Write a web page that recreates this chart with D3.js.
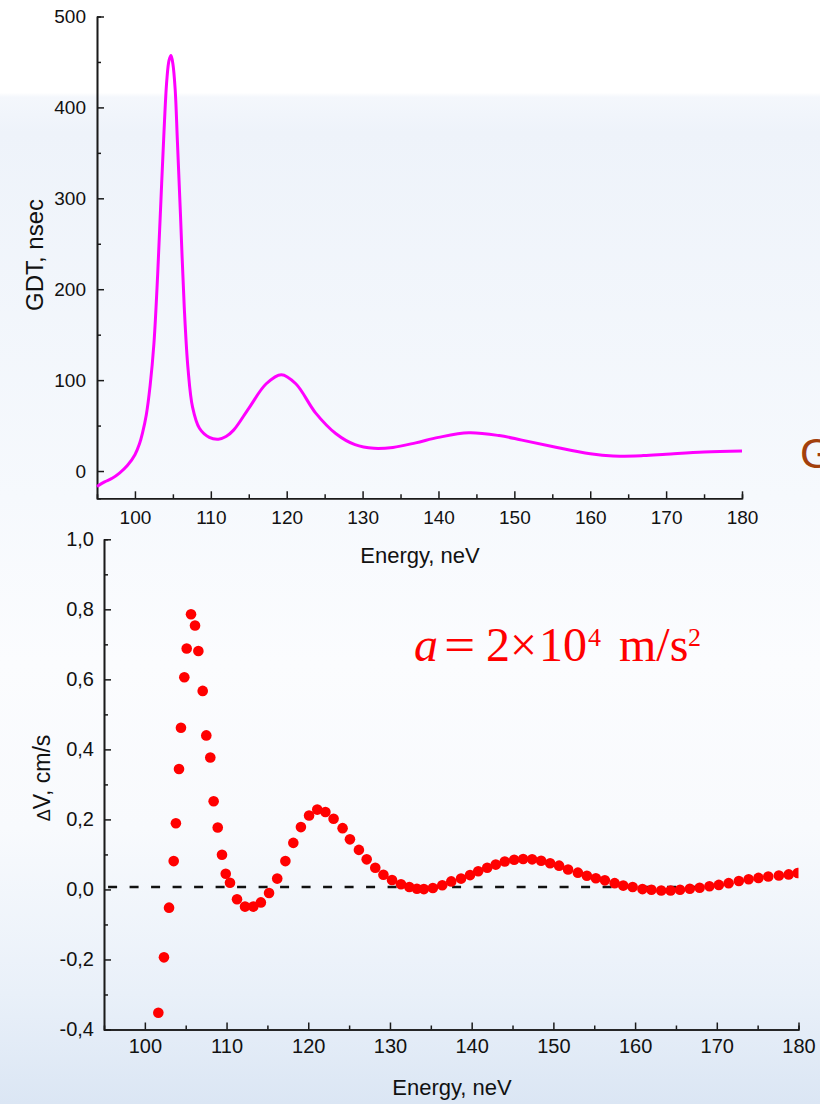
<!DOCTYPE html>
<html>
<head>
<meta charset="utf-8">
<script src="https://cdn.jsdelivr.net/npm/d3@7"></script>
<style>
  body { margin: 0; }
  svg { display: block; font-family: "Liberation Sans", Arial, sans-serif; }
</style>
</head>
<body>
<div id="chart"></div>
<script>
// GDT curve (top panel)
const gdtEnergy = [95, 96, 97, 98, 99, 100, 100.6, 101, 101.5, 102, 102.5, 103, 103.4, 103.8, 104.2, 104.5, 104.75,
  105, 105.3, 105.6, 106, 106.5, 107, 107.6, 108.5, 109.8, 111, 112, 113, 115, 117.3, 119.3, 121.2, 123.8, 126.5,
  129, 131.5, 134, 137, 140, 144, 148, 151, 155, 160, 163, 167, 170, 175, 180];
const gdtValue = [-17, -12, -8, -2, 6, 18, 30, 42, 62, 94, 140, 217, 293, 368, 430, 452, 457,
  448, 420, 362, 282, 180, 112, 70, 47, 37, 35, 38, 45, 69, 96, 106, 96, 64, 41,
  29, 25, 26, 31, 37, 42, 39, 34, 27, 19, 16.5, 17, 18.5, 21, 22];

// delta V points (bottom panel)
const dvEnergy = [101.65, 102.34, 102.96, 103.53, 103.8, 104.18, 104.42, 104.83, 105.12, 105.65, 106.14, 106.55,
  107.08, 107.52, 108.01, 108.42, 108.92, 109.44, 109.9, 110.42, 111.28, 112.26, 113.27, 114.2, 115.2, 116.2,
  117.2, 118.17, 119.1, 120.1, 121.1, 122.1, 123.1, 124.2, 125.1, 126.2, 127.15, 128.2, 129.2, 130.25, 131.35,
  132.37, 133.3, 134.15, 135.25, 136.4, 137.5, 138.7, 139.8, 140.8, 141.9, 142.95, 144.05, 145.2, 146.3, 147.4,
  148.5, 149.6, 150.7, 151.8, 153.0, 154.1, 155.2, 156.3, 157.5, 158.55, 159.7, 160.9, 162.0, 163.2, 164.35,
  165.5, 166.7, 167.9, 169.1, 170.25, 171.45, 172.7, 173.9, 175.1, 176.3, 177.6, 178.8, 179.9];
const dvValue = [-0.352, -0.194, -0.052, 0.081, 0.189, 0.344, 0.462, 0.606, 0.688, 0.786, 0.754, 0.681,
  0.567, 0.440, 0.377, 0.252, 0.177, 0.099, 0.045, 0.019, -0.028, -0.049, -0.049, -0.037, -0.010, 0.031,
  0.081, 0.133, 0.178, 0.211, 0.228, 0.221, 0.202, 0.175, 0.143, 0.113, 0.086, 0.062, 0.042, 0.027, 0.015,
  0.007, 0.002, 0.001, 0.004, 0.012, 0.023, 0.031, 0.041, 0.052, 0.062, 0.071, 0.080, 0.085, 0.087, 0.086,
  0.082, 0.075, 0.068, 0.057, 0.048, 0.039, 0.032, 0.026, 0.018, 0.011, 0.007, 0.001, -0.001, -0.003, -0.003,
  -0.001, 0.002, 0.005, 0.009, 0.013, 0.018, 0.024, 0.029, 0.033, 0.037, 0.040, 0.043, 0.047];

// dashed reference line (energy from/to, level)
const refEnergy = [95.5, 167.5];
const refLevel = 0.007;

const topXTicks = [100, 110, 120, 130, 140, 150, 160, 170, 180];
const topYTicks = [0, 100, 200, 300, 400, 500];
const botXTicks = [100, 110, 120, 130, 140, 150, 160, 170, 180];
const botYTicks = [-0.4, -0.2, 0.0, 0.2, 0.4, 0.6, 0.8, 1.0];

const W = 820, H = 1104;

const svg = d3.select("#chart").append("svg")
    .attr("width", W)
    .attr("height", H);

// background gradient
const defs = svg.append("defs");
const grad = defs.append("linearGradient")
    .attr("id", "bg").attr("x1", 0).attr("y1", 0).attr("x2", 0).attr("y2", 1);
[[0, "#ffffff"], [0.084, "#ffffff"], [0.088, "#f4f7fc"], [0.12, "#eef3fa"], [0.45, "#f6f9fd"],
 [0.6, "#fbfcfe"], [0.75, "#f8fafd"], [0.9, "#e9f0f9"], [1, "#dbe6f4"]].forEach(s => {
    grad.append("stop").attr("offset", s[0]).attr("stop-color", s[1]);
});
svg.append("rect").attr("width", W).attr("height", H).attr("fill", "url(#bg)");

// ---------- top panel ----------
const xTop = d3.scaleLinear().domain([95, 180]).range([97, 742]);
const yTop = d3.scaleLinear().domain([-30, 500]).range([498.3, 16.5]);

const gTop = svg.append("g");

const styleAxis = g => {
    g.select(".domain").attr("stroke", "#1a1a1a").attr("stroke-width", 1.6);
    g.selectAll(".tick line").attr("stroke", "#1a1a1a").attr("stroke-width", 1.5);
};

// minor ticks
gTop.append("g")
    .attr("transform", `translate(0,${yTop(-30)})`)
    .call(d3.axisBottom(xTop).tickValues(d3.range(105, 180, 10)).tickSize(-4).tickFormat(""))
    .call(styleAxis);
gTop.append("g")
    .attr("transform", `translate(${xTop(95)},0)`)
    .call(d3.axisLeft(yTop).tickValues(d3.range(50, 500, 100)).tickSize(-4).tickFormat(""))
    .call(styleAxis);

gTop.append("g")
    .attr("transform", `translate(0,${yTop(-30)})`)
    .call(d3.axisBottom(xTop).tickValues(topXTicks).tickSizeInner(-7).tickSizeOuter(0).tickPadding(12))
    .call(styleAxis)
    .selectAll("text").attr("font-size", 19).attr("fill", "#111").attr("font-family", "Liberation Sans, Arial");

gTop.append("g")
    .attr("transform", `translate(${xTop(95)},0)`)
    .call(d3.axisLeft(yTop).tickValues(topYTicks).tickSizeInner(-7).tickSizeOuter(0).tickPadding(11))
    .call(styleAxis)
    .selectAll("text").attr("font-size", 19).attr("fill", "#111").attr("font-family", "Liberation Sans, Arial");

gTop.append("text")
    .attr("x", 420).attr("y", 563)
    .attr("text-anchor", "middle")
    .attr("font-size", 22).attr("fill", "#111")
    .text("Energy, neV");

gTop.append("text")
    .attr("transform", `translate(43,255) rotate(-90)`)
    .attr("text-anchor", "middle")
    .attr("font-size", 24).attr("fill", "#111")
    .text("GDT, nsec");

const gdtData = gdtEnergy.map((e, i) => ({ e: e, v: gdtValue[i] }));
const gdtLine = d3.line()
    .x(d => xTop(d.e))
    .y(d => yTop(d.v))
    .curve(d3.curveCatmullRom.alpha(0.5));

gTop.append("path")
    .datum(gdtData)
    .attr("fill", "none")
    .attr("stroke", "#ff00ff")
    .attr("stroke-width", 3)
    .attr("d", gdtLine);

// cut-off letter at the right edge
svg.append("text")
    .attr("x", 800).attr("y", 468)
    .attr("font-size", 43)
    .attr("fill", "#a3400c")
    .text("G");

// ---------- bottom panel ----------
const xBot = d3.scaleLinear().domain([95, 180]).range([104, 798.5]);
const yBot = d3.scaleLinear().domain([-0.4, 1.0]).range([1029.5, 539.3]);
const commaFmt = d => d.toFixed(1).replace(".", ",");

const gBot = svg.append("g");

gBot.append("g")
    .attr("transform", `translate(0,${yBot(-0.4)})`)
    .call(d3.axisBottom(xBot).tickValues(d3.range(105, 180, 10)).tickSize(-4).tickFormat(""))
    .call(styleAxis);
gBot.append("g")
    .attr("transform", `translate(${xBot(95)},0)`)
    .call(d3.axisLeft(yBot).tickValues([-0.3, -0.1, 0.1, 0.3, 0.5, 0.7, 0.9]).tickSize(-4).tickFormat(""))
    .call(styleAxis);

gBot.append("g")
    .attr("transform", `translate(0,${yBot(-0.4)})`)
    .call(d3.axisBottom(xBot).tickValues(botXTicks).tickSizeInner(-7).tickSizeOuter(0).tickPadding(9))
    .call(styleAxis)
    .selectAll("text").attr("font-size", 20).attr("fill", "#111").attr("font-family", "Liberation Sans, Arial");

gBot.append("g")
    .attr("transform", `translate(${xBot(95)},0)`)
    .call(d3.axisLeft(yBot).tickValues(botYTicks).tickSizeInner(-7).tickSizeOuter(0).tickPadding(10).tickFormat(commaFmt))
    .call(styleAxis)
    .selectAll("text").attr("font-size", 20).attr("fill", "#111").attr("font-family", "Liberation Sans, Arial");

gBot.append("text")
    .attr("x", 452).attr("y", 1095)
    .attr("text-anchor", "middle")
    .attr("font-size", 22).attr("fill", "#111")
    .text("Energy, neV");

const dvLabel = gBot.append("text")
    .attr("transform", `translate(50,778) rotate(-90)`)
    .attr("text-anchor", "middle")
    .attr("font-size", 23).attr("fill", "#111");
dvLabel.append("tspan").attr("font-size", 18).text("\u0394");
dvLabel.append("tspan").text("V, cm/s");

// dashed zero line
gBot.append("line")
    .attr("x1", xBot(refEnergy[0])).attr("x2", xBot(refEnergy[1]))
    .attr("y1", yBot(refLevel)).attr("y2", yBot(refLevel))
    .attr("stroke", "#111")
    .attr("stroke-width", 2.5)
    .attr("stroke-dasharray", "9,12.5");

defs.append("clipPath").attr("id", "clipBot")
    .append("rect")
    .attr("x", xBot(95)).attr("y", yBot(1.0))
    .attr("width", xBot(180) - xBot(95)).attr("height", yBot(-0.4) - yBot(1.0));

const dvData = dvEnergy.map((e, i) => ({ e: e, v: dvValue[i] }));
gBot.append("g")
    .attr("clip-path", "url(#clipBot)")
    .selectAll("circle")
    .data(dvData)
    .join("circle")
    .attr("cx", d => xBot(d.e))
    .attr("cy", d => yBot(d.v))
    .attr("r", 5.3)
    .attr("fill", "#ff0000");

// formula
const serif = "Liberation Serif, 'Times New Roman', serif";
const formula = svg.append("text")
    .attr("font-family", serif)
    .attr("fill", "#ff0000")
    .attr("font-size", 48);
formula.append("tspan").attr("x", 414).attr("y", 661).attr("font-style", "italic").text("a");
formula.append("tspan").attr("x", 486).attr("y", 661).text("2");
formula.append("tspan").attr("x", 510).attr("y", 661).text("\u00d7");
formula.append("tspan").attr("x", 539).attr("y", 661).text("10");
formula.append("tspan").attr("x", 588).attr("y", 646).attr("font-size", 26).text("4");
formula.append("tspan").attr("x", 619).attr("y", 661).text("m/s");
formula.append("tspan").attr("x", 688).attr("y", 646).attr("font-size", 26).text("2");
svg.append("text")
    .attr("transform", "translate(444,661) scale(1.15,1)")
    .attr("font-family", serif)
    .attr("fill", "#ff0000")
    .attr("font-size", 48)
    .text("=");
</script>
</body>
</html>
